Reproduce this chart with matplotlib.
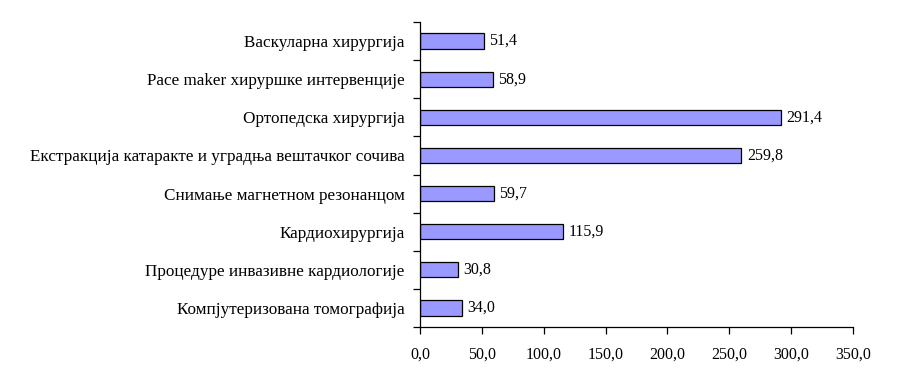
import matplotlib
matplotlib.use("Agg")
import matplotlib.pyplot as plt
import numpy as np
from matplotlib.ticker import FixedLocator

categories = [
    "Васкуларна хирургија",
    "Pace maker хируршке интервенције",
    "Ортопедска хирургија",
    "Екстракција катаракте и уградња вештачког сочива",
    "Снимање магнетном резонанцом",
    "Кардиохирургија",
    "Процедуре инвазивне кардиологије",
    "Компјутеризована томографија",
]
values = [51.4, 58.9, 291.4, 259.8, 59.7, 115.9, 30.8, 34.0]
xticks = [0, 50, 100, 150, 200, 250, 300, 350]

plt.rcParams['font.family'] = ['Liberation Serif', 'DejaVu Serif']
plt.rcParams['font.size'] = 11.5

fig = plt.figure(figsize=(9.15, 3.73), dpi=100)
ax = fig.add_axes([420/915, 1-327/373, (853-420)/915, (327-22)/373])

n = len(categories)
y = np.arange(n)[::-1]
ax.barh(y, values, height=0.4, color="#9999FF", edgecolor="black", linewidth=0.9)
for yi, v in zip(y, values):
    ax.text(v + 4.5, yi, f"{v:.1f}".replace(".", ","), va="center", ha="left", fontsize=11.5)

ax.set_xlim(0, 350)
ax.set_ylim(-0.5, n - 0.5)
ax.set_xticks(xticks)
ax.set_xticklabels([f"{t:.1f}".replace(".", ",") for t in xticks], fontsize=11.5)
ax.set_yticks(y)
ax.set_yticklabels(categories, fontsize=12.3)
ax.tick_params(axis="y", which="major", length=0, pad=11)
ax.yaxis.set_minor_locator(FixedLocator(np.arange(-0.5, n, 1.0)))
ax.tick_params(axis="y", which="minor", length=5, width=0.9, direction="out")
ax.tick_params(axis="x", length=5, width=0.9, direction="out", pad=9)
for s in ["top", "right"]:
    ax.spines[s].set_visible(False)
for s in ["left", "bottom"]:
    ax.spines[s].set_linewidth(0.9)

fig.savefig("out.png", dpi=100)
